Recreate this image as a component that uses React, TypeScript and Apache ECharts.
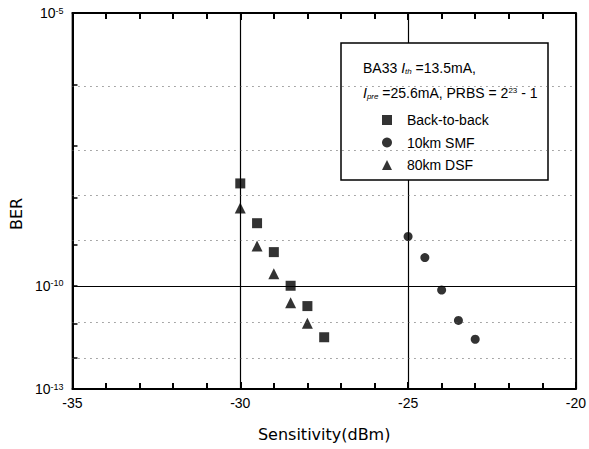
import React, { useEffect, useRef } from "react";
import * as echarts from "echarts";

const backToBackX = [-30, -29.5, -29, -28.5, -28, -27.5];
const backToBackBER = [1.95e-8, 2.95e-9, 6.6e-10, 1.0e-10, 2.95e-11, 4.0e-12];
const smfX = [-25, -24.5, -24, -23.5, -23];
const smfBER = [1.5e-9, 4.9e-10, 7.8e-11, 1.2e-11, 3.5e-12];
const dsfX = [-30, -29.5, -29, -28.5, -28];
const dsfBER = [6.2e-9, 9.1e-10, 2.0e-10, 3.6e-11, 1.0e-11];

const yLabelExps = [5, 10, 13];
const yTickExps = [5, 6, 7, 8, 9, 10, 11, 12, 13];
const dottedExps = [6, 7, 8, 9, 11, 12];
const solidExps = [10];

const seriesNames = ["Back-to-back", "10km SMF", "80km DSF"];

const tr = (ber: number) => Math.log10(-Math.log10(ber));
const trExp = (n: number) => Math.log10(n);

const FONT = "'Liberation Sans', Arial, sans-serif";
const WIDE = "'DejaVu Sans', 'Liberation Sans', sans-serif";
const INK = "#000";

export default function App() {
  const ref = useRef<HTMLDivElement>(null);
  useEffect(() => {
    document.body.style.margin = "0";
    const chart = echarts.init(ref.current!, null, { renderer: "svg" });
    const pts = (xs: number[], bers: number[]) => xs.map((x, i) => [x, tr(bers[i])]);
    chart.setOption({
      animation: false,
      grid: {
        left: 50,
        right: 11,
        top: 13,
        bottom: 60,
        show: true,
        borderColor: INK,
        borderWidth: 1.5,
      },
      xAxis: [
        {
          type: "value",
          min: -35,
          max: -20,
          interval: 5,
          name: "Sensitivity(dBm)",
          nameLocation: "middle",
          nameGap: 37,
          nameTextStyle: { fontSize: 16, color: INK, fontFamily: WIDE },
          axisLine: { show: true, lineStyle: { color: INK, width: 2 } },
          axisTick: { show: true, inside: true, length: 7, lineStyle: { color: INK, width: 2 } },
          minorTick: { show: true, splitNumber: 5, length: 6, lineStyle: { color: INK, width: 2 } },
          axisLabel: { fontSize: 14, color: INK, margin: 7, fontFamily: FONT },
          splitLine: { show: true, lineStyle: { color: INK, width: 1.2 } },
        },
        {
          type: "value",
          position: "top",
          min: -35,
          max: -20,
          interval: 5,
          axisLine: { show: true, lineStyle: { color: INK, width: 2 } },
          axisTick: { show: true, inside: true, length: 7, lineStyle: { color: INK, width: 2 } },
          minorTick: { show: true, splitNumber: 5, length: 6, lineStyle: { color: INK, width: 2 } },
          axisLabel: { show: false },
          splitLine: { show: false },
        },
      ],
      yAxis: {
        type: "value",
        inverse: true,
        min: trExp(5),
        max: trExp(13),
        name: "BER",
        nameLocation: "middle",
        nameRotate: 90,
        nameGap: 29,
        nameTextStyle: { fontSize: 16, color: INK, fontFamily: WIDE, padding: [0, 26, 0, 0] },
        axisLine: { show: true, lineStyle: { color: INK, width: 2 } },
        axisTick: {
          show: true,
          inside: true,
          length: 5,
          customValues: yTickExps.map(trExp),
          lineStyle: { color: INK, width: 1.5 },
        },
        axisLabel: {
          customValues: yLabelExps.map(trExp),
          margin: 9,
          color: INK,
          fontSize: 14,
          fontFamily: FONT,
          formatter: (v: number) => `10{sup|-${Math.round(Math.pow(10, v))}}`,
          rich: {
            sup: { fontSize: 9, lineHeight: 9, verticalAlign: "top", color: INK, fontFamily: FONT },
          },
        },
        splitLine: { show: false },
      },
      legend: {
        data: seriesNames,
        orient: "vertical",
        left: 377,
        top: 108,
        itemWidth: 10,
        itemHeight: 10,
        itemGap: 8.5,
        textStyle: { fontSize: 14, color: INK, fontFamily: FONT, padding: [0, 0, 0, 10] },
        z: 6,
      },
      graphic: [
        {
          type: "rect",
          shape: { x: 341, y: 43, width: 207, height: 137 },
          style: { fill: "#fff", stroke: INK, lineWidth: 1.5 },
          z: 4,
        },
        {
          type: "text",
          x: 363,
          y: 68,
          z: 6,
          style: {
            text: "BA33 {i|I}{sub|th} =13.5mA,",
            font: `14px ${FONT}`,
            fill: INK,
            verticalAlign: "middle",
            rich: {
              i: { fontStyle: "italic", fontSize: 14, fontFamily: FONT },
              sub: { fontStyle: "italic", fontSize: 8, lineHeight: 8, verticalAlign: "bottom", fontFamily: FONT },
            },
          },
        },
        {
          type: "text",
          x: 363,
          y: 93,
          z: 6,
          style: {
            text: "{i|I}{sub|pre} =25.6mA, PRBS = 2{sup|23} - 1",
            font: `14px ${FONT}`,
            fill: INK,
            verticalAlign: "middle",
            rich: {
              i: { fontStyle: "italic", fontSize: 14, fontFamily: FONT },
              sub: { fontStyle: "italic", fontSize: 8, lineHeight: 8, verticalAlign: "bottom", fontFamily: FONT },
              sup: { fontSize: 8, lineHeight: 8, verticalAlign: "top", fontFamily: FONT },
            },
          },
        },
      ],
      series: [
        {
          name: seriesNames[0],
          type: "scatter",
          symbol: "rect",
          symbolSize: 10,
          itemStyle: { color: INK },
          data: pts(backToBackX, backToBackBER),
          z: 3,
          markLine: {
            silent: true,
            symbol: "none",
            label: { show: false },
            data: [
              ...dottedExps.map((n) => ({
                yAxis: trExp(n),
                lineStyle: { color: "#555", type: [1, 5], width: 1 },
              })),
              ...solidExps.map((n) => ({
                yAxis: trExp(n),
                lineStyle: { color: INK, type: "solid", width: 1.2 },
              })),
            ],
          },
        },
        {
          name: seriesNames[1],
          type: "scatter",
          symbol: "circle",
          symbolSize: 9,
          itemStyle: { color: INK },
          data: pts(smfX, smfBER),
          z: 3,
        },
        {
          name: seriesNames[2],
          type: "scatter",
          symbol: "triangle",
          symbolSize: 11,
          itemStyle: { color: INK },
          data: pts(dsfX, dsfBER),
          z: 3,
        },
      ],
    });
    return () => chart.dispose();
  }, []);
  return <div ref={ref} style={{ width: 589, height: 449, background: "#fff" }} />;
}
